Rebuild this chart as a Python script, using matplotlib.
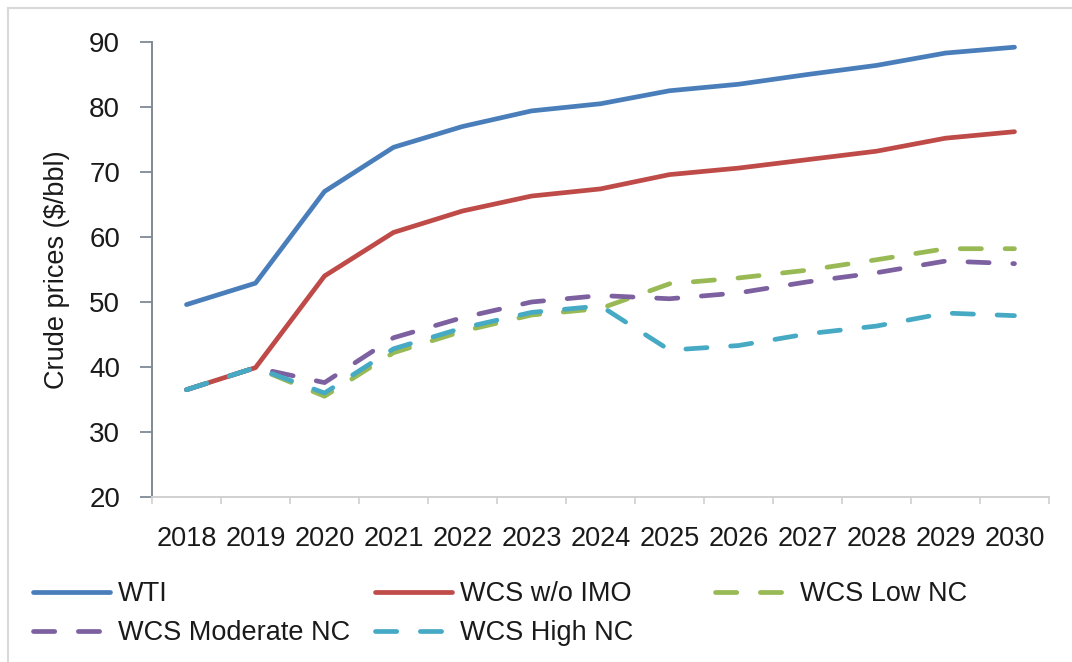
import matplotlib
matplotlib.use("Agg")
import matplotlib.pyplot as plt
import numpy as np
from matplotlib.lines import Line2D

plt.rcParams['font.family'] = ['Liberation Sans', 'DejaVu Sans']

years = ["2018", "2019", "2020", "2021", "2022", "2023", "2024",
         "2025", "2026", "2027", "2028", "2029", "2030"]

wti = [49.6, 52.9, 67.0, 73.8, 77.0, 79.4, 80.5, 82.5, 83.5, 85.0, 86.4, 88.3, 89.2]
wcs_no_imo = [36.5, 39.9, 54.0, 60.7, 64.0, 66.3, 67.4, 69.6, 70.6, 71.9, 73.2, 75.2, 76.2]
wcs_low_nc = [36.5, 39.9, 35.5, 42.2, 45.5, 48.0, 49.0, 52.8, 53.7, 54.9, 56.5, 58.2, 58.2]
wcs_moderate_nc = [36.5, 39.9, 37.6, 44.5, 47.6, 50.0, 51.0, 50.5, 51.4, 53.1, 54.5, 56.3, 55.9]
wcs_high_nc = [36.5, 39.9, 36.0, 42.8, 46.0, 48.4, 49.4, 42.6, 43.3, 45.1, 46.3, 48.3, 47.9]

W, H = 1072, 662
fig = plt.figure(figsize=(W / 100, H / 100), dpi=100)
fig.patch.set_facecolor("white")

# axes box in pixel terms
left, right, top, bottom = 152, 1049, 42, 497
ax = fig.add_axes([left / W, 1 - bottom / H, (right - left) / W, (bottom - top) / H])

x = np.arange(len(years))
txt = "#1a1a1a"
lw = 3.4
dash = (4.5, 5.0)

series = [
    ("WTI", wti, "#4A7EBB", "-"),
    ("WCS w/o IMO", wcs_no_imo, "#BE4B48", "-"),
    ("WCS Low NC", wcs_low_nc, "#98B954", "--"),
    ("WCS Moderate NC", wcs_moderate_nc, "#7D60A0", "--"),
    ("WCS High NC", wcs_high_nc, "#46AAC5", "--"),
]

handles = {}
for name, vals, col, ls in series:
    line, = ax.plot(x, vals, color=col, lw=lw, solid_capstyle="round",
                    solid_joinstyle="round", label=name)
    if ls == "--":
        line.set_dashes(dash)
        line.set_dash_capstyle("round")
    handles[name] = line

ax.set_xlim(-0.5, len(years) - 0.5)
ax.set_ylim(20, 90)
ax.set_yticks(range(20, 91, 10))
ax.tick_params(axis="y", direction="out", length=9, width=1.3, color="#7f8a96",
               pad=14, labelsize=20, labelcolor=txt)

ax.set_xticks(x)
ax.set_xticklabels(years)
ax.set_xticks(np.arange(-0.5, len(years), 1.0), minor=True)
ax.tick_params(axis="x", which="major", length=0, pad=21, labelsize=19.5, labelcolor=txt)
ax.tick_params(axis="x", which="minor", direction="out", length=5, width=1.2, color="#d0d0d0")

for s in ["top", "right"]:
    ax.spines[s].set_visible(False)
ax.spines["left"].set_color("#7f8a96")
ax.spines["left"].set_linewidth(1.4)
ax.spines["bottom"].set_color("#d0d0d0")
ax.spines["bottom"].set_linewidth(1.4)

ax.set_ylabel("Crude prices ($/bbl)", fontsize=19.5, color=txt)
ax.yaxis.set_label_coords((70 - left) / (right - left), 0.5)

# legend laid out in three equal-width columns
columns = [
    (33, ["WTI", "WCS Moderate NC"]),
    (375, ["WCS w/o IMO", "WCS High NC"]),
    (715, ["WCS Low NC"]),
]
for xpx, names in columns:
    leg = fig.legend([handles[n] for n in names], names, loc="upper left",
                     bbox_to_anchor=(xpx / W, 1 - 581 / H), frameon=False,
                     fontsize=19.5, handlelength=2.85, handletextpad=0.3,
                     borderpad=0, borderaxespad=0, labelspacing=0.48)
    for t in leg.get_texts():
        t.set_color(txt)

# thin frame along the top and left edges
frame_col = "#d9d9d9"
fig.add_artist(Line2D([8 / W, 8 / W], [0, 1 - 8 / H], color=frame_col, lw=1.5))
fig.add_artist(Line2D([8 / W, 1], [1 - 8 / H, 1 - 8 / H], color=frame_col, lw=1.5))

fig.savefig("out.png", dpi=100, facecolor="white")
